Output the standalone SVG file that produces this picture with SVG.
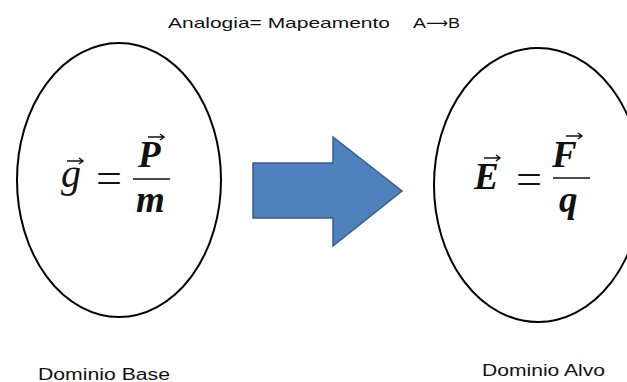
<svg xmlns="http://www.w3.org/2000/svg" width="627" height="382" viewBox="0 0 627 382">
<style>
.lbl{font-family:"Liberation Sans",Arial,sans-serif;font-size:15px;fill:#111}
.bot{font-family:"Liberation Sans",Arial,sans-serif;font-size:16px;fill:#111}
.dom{fill:#fff;stroke:#000;stroke-width:2}
.m{font-family:"Liberation Serif","Times New Roman",serif;font-style:italic;font-weight:bold;font-size:37px;fill:#111}
.eq{font-family:"Liberation Serif","Times New Roman",serif;font-size:42px;fill:#111}
.bar{stroke:#111;stroke-width:1.4}
.vec{stroke:#111;stroke-width:1.4;fill:none}
</style>
<rect width="627" height="382" fill="#fff"/>
<text class="lbl" x="168" y="28" textLength="222" lengthAdjust="spacingAndGlyphs">Analogia= Mapeamento</text>
<text class="lbl" x="413" y="28" textLength="13" lengthAdjust="spacingAndGlyphs">A</text>
<text class="lbl" x="426" y="28" style="font-family:'DejaVu Sans',sans-serif" textLength="22" lengthAdjust="spacingAndGlyphs">⟶</text>
<text class="lbl" x="448" y="28" textLength="12" lengthAdjust="spacingAndGlyphs">B</text>
<g id="base">
<ellipse class="dom" cx="119" cy="180" rx="102" ry="137"/>
<text class="m" x="61" y="187" style="font-weight:normal;font-size:40px">g</text>
<path class="vec" d="M67 161 H83 M79 158 L83 161 L79 164"/>
<text class="eq" x="96" y="192" textLength="26" lengthAdjust="spacingAndGlyphs">=</text>
<line class="bar" x1="133" y1="179" x2="170" y2="179"/>
<text class="m" x="138" y="167">P</text>
<path class="vec" d="M148 137 H164 M160 134 L164 137 L160 140"/>
<text class="m" x="136" y="212">m</text>
<text class="bot" x="38" y="380" textLength="132" lengthAdjust="spacingAndGlyphs">Dominio Base</text>
</g>
<g id="alvo">
<ellipse class="dom" cx="538" cy="185" rx="104" ry="137"/>
<text class="m" x="474" y="189">E</text>
<path class="vec" d="M484 158 H500 M496 155 L500 158 L496 161"/>
<text class="eq" x="516" y="193" textLength="26" lengthAdjust="spacingAndGlyphs">=</text>
<line class="bar" x1="553" y1="178" x2="590" y2="178"/>
<text class="m" x="552" y="167">F</text>
<path class="vec" d="M566 136 H582 M578 133 L582 136 L578 139"/>
<text class="m" x="559" y="212">q</text>
<text class="bot" x="482" y="376" textLength="123" lengthAdjust="spacingAndGlyphs">Dominio Alvo</text>
</g>
<g id="connectors">
<path d="M253 163 H333 V137 L402 191 L333 246 V218 H253 Z" fill="#4F81BD" stroke="#385D8A" stroke-width="1.5"/>
</g>
</svg>
